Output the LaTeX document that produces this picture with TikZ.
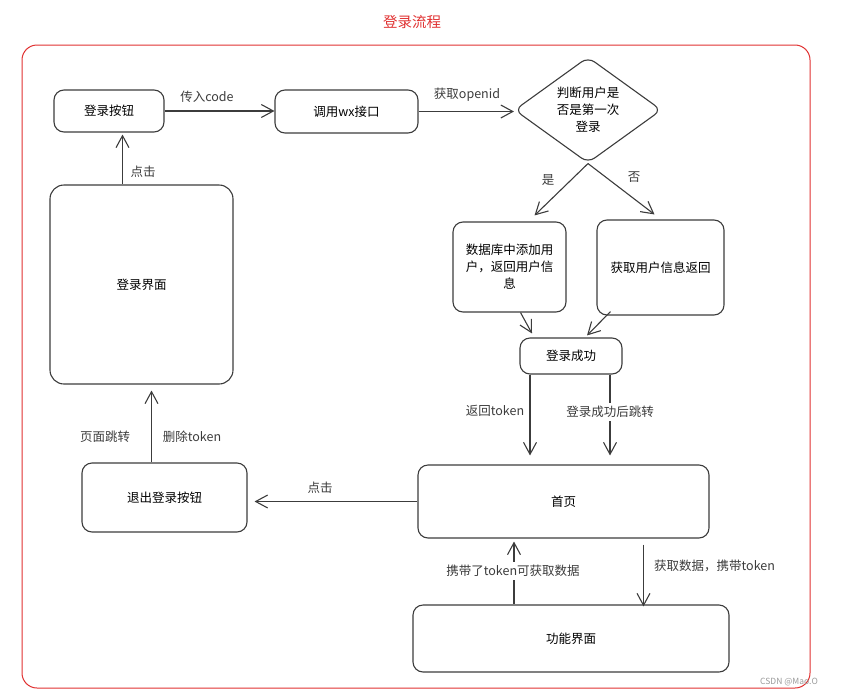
\documentclass[tikz,border=0pt]{standalone}
\usepackage{fontspec}
\setmainfont{Noto Sans CJK SC}
\usepackage{tikz}
\usetikzlibrary{arrows.meta, shapes.geometric}
\usetikzlibrary{positioning}
\definecolor{ink}{HTML}{3C3C3C}
\definecolor{frame_red}{HTML}{E03131}
\tikzstyle{round_box} = [
    rectangle,
    rounded corners=10pt,
    draw=ink,
    line width=1.1pt,
    align=center,
    font=\fontsize{12.5}{17}\selectfont,
    inner sep=2pt
]
\tikzstyle{decision_box} = [
    diamond,
    rounded corners=8pt,
    draw=ink,
    line width=1.1pt,
    align=center,
    aspect=1.4,
    inner sep=0pt,
    font=\fontsize{12.5}{17}\selectfont
]
\tikzstyle{flow_arrow} = [
    draw=ink,
    line width=1.1pt,
    -{Straight Barb[length=12pt, width=13pt, line width=1.1pt]}
]
\tikzstyle{edge_label} = [
    font=\fontsize{12.5}{15}\selectfont,
    text=ink,
    inner sep=1pt
]

\begin{document}
\begin{tikzpicture}[x=1pt, y=-1pt]
\useasboundingbox (0,0) rectangle (853,696);

% frame and title
\node [font=\fontsize{14.5}{16}\selectfont, text=frame_red] (title) at (412,22) {登录流程};
\draw [frame_red, line width=1pt, rounded corners=15pt] (22,45) rectangle (810,688);

% boxes
\node [round_box, minimum width=110pt, minimum height=42pt] (login_btn) at (109,111) {登录按钮};
\node [round_box, minimum width=143pt, minimum height=43pt] (wx_api) at (346.5,111.5) {调用wx接口};
\node [decision_box, minimum width=147pt, minimum height=106pt] (decision) at (588,110)
    {判断用户是\\否是第一次\\登录};
\node [round_box, minimum width=113pt, minimum height=90pt] (add_user) at (509.5,267)
    {数据库中添加用\\户，返回用户信\\息};
\node [round_box, minimum width=127pt, minimum height=95pt] (get_user) at (660.5,267.5) {获取用户信息返回};
\node [round_box, minimum width=102pt, minimum height=36pt] (success) at (571,356) {登录成功};
\node [round_box, minimum width=183pt, minimum height=199pt, rounded corners=14pt] (login_page) at (141.5,284.5) {登录界面};
\node [round_box, minimum width=165pt, minimum height=69pt] (exit_btn) at (164.5,497.5) {退出登录按钮};
\node [round_box, minimum width=291pt, minimum height=73pt] (home) at (563.5,501.5) {首页};
\node [round_box, minimum width=316pt, minimum height=67pt] (func_page) at (571,638.5) {功能界面};

% arrows
\draw [flow_arrow] (login_btn.east) -- (login_btn.east -| wx_api.west);
\draw [flow_arrow] (wx_api.east) -- (wx_api.east -| decision.west);
\draw [flow_arrow] (decision.south) -- ([xshift=25pt, yshift=6pt]add_user.north);
\draw [flow_arrow] (decision.south) -- ([xshift=-6pt, yshift=5pt]get_user.north);
\draw [flow_arrow] ([xshift=11pt]add_user.south) -- ([xshift=-39pt, yshift=4pt]success.north);
\draw [flow_arrow] ([xshift=-50pt, yshift=4pt]get_user.south) -- ([xshift=16pt, yshift=2pt]success.north);
\draw [flow_arrow, shorten >=9pt] ([xshift=-41pt]success.south) -- ([xshift=-41pt]success.south |- home.north);
\draw [flow_arrow, shorten >=9pt] ([xshift=39pt]success.south) -- ([xshift=39pt]success.south |- home.north);
\draw [flow_arrow, shorten >=7pt] (home.west) -- (home.west -| exit_btn.east);
\draw [flow_arrow, shorten >=6pt] ([xshift=-13pt]exit_btn.north) -- ([xshift=-13pt]exit_btn.north |- login_page.south);
\draw [flow_arrow, shorten >=2pt] ([xshift=-19pt]login_page.north) -- ([xshift=-19pt]login_page.north |- login_btn.south);
\draw [flow_arrow, shorten >=3pt] ([xshift=-57pt]func_page.north) -- ([xshift=-57pt]func_page.north |- home.south);
\draw [flow_arrow, shorten >=4pt] ([xshift=80pt, yshift=-6pt]home.south) -- ([xshift=80pt, yshift=-6pt]home.south |- func_page.north);

% labels
\node [edge_label] (lbl_code) at (207,97) {传入code};
\node [edge_label] (lbl_openid) at (467,95) {获取openid};
\node [edge_label] (lbl_yes) at (548,180) {是};
\node [edge_label] (lbl_no) at (634,177) {否};
\node [edge_label] (lbl_token) at (495,411) {返回token};
\node [edge_label, fill=white, inner sep=3pt] (lbl_jump) at (610,412) {登录成功后跳转};
\node [edge_label] (lbl_click) at (320,488) {点击};
\node [edge_label] (lbl_page) at (105,437) {页面跳转};
\node [edge_label] (lbl_delete) at (192,437) {删除token};
\node [edge_label] (lbl_click_top) at (143,172) {点击};
\node [edge_label, fill=white, inner sep=3pt] (lbl_carry) at (513,571) {携带了token可获取数据};
\node [edge_label, anchor=west] (lbl_fetch) at (653,566) {获取数据，携带token};

% watermark
\node [font=\fontsize{8.5}{10}\selectfont, text=gray!80] (mark) at (789,682) {CSDN @Mao.O};
\end{tikzpicture}
\end{document}
